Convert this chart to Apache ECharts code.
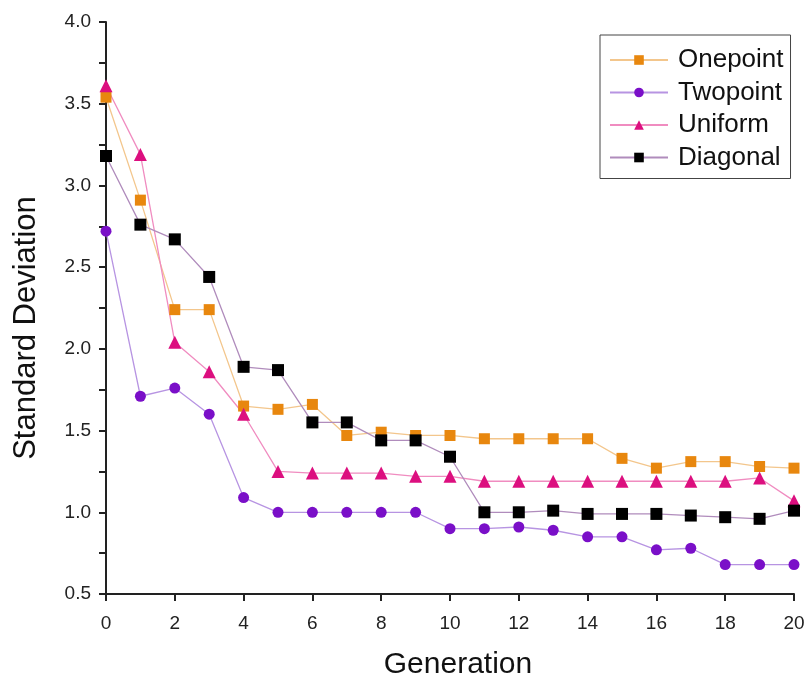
<!DOCTYPE html>
<html>
<head>
<meta charset="utf-8">
<script src="https://cdn.jsdelivr.net/npm/echarts@6/dist/echarts.min.js"></script>
<style>
  html, body { margin: 0; padding: 0; background: #fff; }
  #chart { width: 809px; height: 681px; }
</style>
</head>
<body>
<div id="chart"></div>
<script>
const generations = [0, 1, 2, 3, 4, 5, 6, 7, 8, 9, 10, 11, 12, 13, 14, 15, 16, 17, 18, 19, 20]
const onepoint = [3.54, 2.91, 2.24, 2.24, 1.65, 1.63, 1.66, 1.47, 1.49, 1.47, 1.47, 1.45, 1.45, 1.45, 1.45, 1.33, 1.27, 1.31, 1.31, 1.28, 1.27]
const twopoint = [2.72, 1.71, 1.76, 1.60, 1.09, 1.00, 1.00, 1.00, 1.00, 1.00, 0.90, 0.90, 0.91, 0.89, 0.85, 0.85, 0.77, 0.78, 0.68, 0.68, 0.68]
const uniform = [3.61, 3.19, 2.04, 1.86, 1.60, 1.25, 1.24, 1.24, 1.24, 1.22, 1.22, 1.19, 1.19, 1.19, 1.19, 1.19, 1.19, 1.19, 1.19, 1.21, 1.07]
const diagonal = [3.18, 2.76, 2.67, 2.44, 1.89, 1.87, 1.55, 1.55, 1.44, 1.44, 1.34, 1.00, 1.00, 1.01, 0.99, 0.99, 0.99, 0.98, 0.97, 0.96, 1.01]

const FONT = '"Liberation Sans", Arial, sans-serif'

const pairs = (ys) => generations.map((g, i) => [g, ys[i]])

const makeSeries = (name, ys, symbol, size, markColor, lineColor) => ({
  name: name,
  type: 'line',
  data: pairs(ys),
  symbol: symbol,
  symbolSize: size,
  itemStyle: { color: markColor },
  lineStyle: { color: lineColor, width: 1.3 },
  emphasis: { disabled: true },
})

const chart = echarts.init(document.getElementById('chart'))
chart.setOption({
  animation: false,
  grid: { left: 106, right: 15, top: 22, bottom: 87, outerBoundsMode: 'none' },
  legend: {
    orient: 'vertical',
    left: 600,
    top: 35,
    padding: [12, 7, 8, 9],
    itemGap: 6.5,
    itemWidth: 58,
    itemHeight: 12,
    borderColor: '#444',
    borderWidth: 1,
    backgroundColor: '#fff',
    textStyle: { fontFamily: FONT, fontSize: 26, color: '#111', padding: [0, 0, 0, 5] },
  },
  xAxis: {
    type: 'value',
    min: 0,
    max: 20,
    interval: 2,
    name: 'Generation',
    nameLocation: 'middle',
    nameGap: 56,
    nameTextStyle: { fontFamily: FONT, fontSize: 30, color: '#111', padding: [0, 0, 0, 16] },
    axisLine: { onZero: false, lineStyle: { color: '#222', width: 2 } },
    axisTick: { inside: false, length: 7, lineStyle: { color: '#222', width: 2 } },
    axisLabel: { fontFamily: FONT, fontSize: 19, color: '#222', margin: 20 },
    splitLine: { show: false },
  },
  yAxis: {
    type: 'value',
    min: 0.5,
    max: 4,
    interval: 0.5,
    name: 'Standard Deviation',
    nameLocation: 'middle',
    nameGap: 64,
    nameTextStyle: { fontFamily: FONT, fontSize: 31, color: '#111', padding: [0, 40, 0, 0] },
    axisLine: { show: true, lineStyle: { color: '#222', width: 2 } },
    axisTick: { show: true, length: 7, lineStyle: { color: '#222', width: 2 } },
    minorTick: { show: true, splitNumber: 2, length: 7, lineStyle: { color: '#222', width: 2 } },
    axisLabel: {
      fontFamily: FONT, fontSize: 19, color: '#222', margin: 15,
      formatter: (v) => v.toFixed(1),
    },
    splitLine: { show: false },
  },
  series: [
    makeSeries('Onepoint', onepoint, 'rect', 11, '#e8870e', '#f3c68c'),
    makeSeries('Twopoint', twopoint, 'circle', 11, '#7a0fc8', '#b794e2'),
    makeSeries('Uniform', uniform, 'triangle', 13, '#dc0f7f', '#f08cc0'),
    makeSeries('Diagonal', diagonal, 'rect', 12, '#000000', '#b08cbc'),
  ],
})
</script>
</body>
</html>
